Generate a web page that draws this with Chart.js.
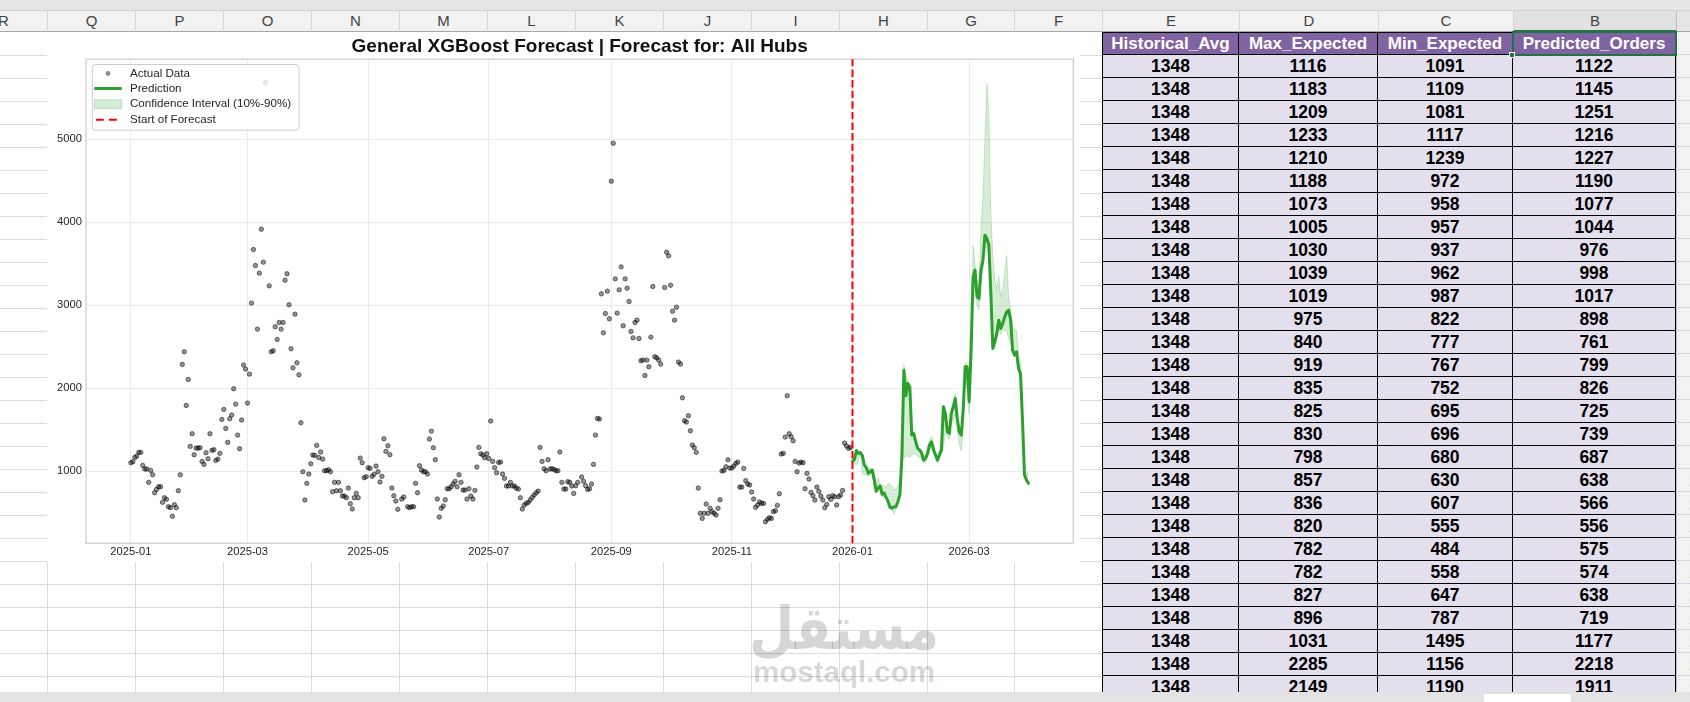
<!DOCTYPE html>
<html>
<head>
<meta charset="utf-8">
<title>General XGBoost Forecast</title>
<script src="https://cdn.jsdelivr.net/npm/chart.js@4.4.1/dist/chart.umd.min.js"></script>
<style>
  html, body { margin: 0; padding: 0; }
  body { width: 1690px; height: 702px; overflow: hidden; position: relative; background: #fff;
         font-family: "Liberation Sans", Arial, sans-serif; }
  .abs { position: absolute; box-sizing: border-box; }
  .strip { background: #e6e6e6; border-bottom: 1px solid #d0d0d0; }
  .colhead { text-align: center; font-size: 15px; color: #444; line-height: 20px; background: #f2f2f2;
             border-left: 1px solid #d6d6d6; border-bottom: 1px solid #a8a8a8; }
  .selcol { background: #e1e1e1; border-bottom: 2px solid #217346; }
  .corner { background: #e6e6e6; border-left: 1px solid #bdbdbd; border-bottom: 1px solid #a8a8a8; }
  .gline { background: #dcdcdc; }
  .rownum { font-size: 15px; color: #444; text-align: center; line-height: 23px; background: #f2f2f2;
            border-left: 1px solid #bdbdbd; border-bottom: 1px solid #d6d6d6; }
  .hcell { background: #8064a2; color: #fff; font-weight: bold; font-size: 17px; text-align: center;
           line-height: 21px; border-right: 1px solid #000; border-bottom: 1px solid #000; border-top: 1px solid #000;
           white-space: nowrap; overflow: hidden; }
  .dcell { background: #e4dfec; color: #000; font-weight: bold; font-size: 17.5px; text-align: center;
           line-height: 22px; border-right: 1px solid #000; border-bottom: 1px solid #000; }
  .first { border-left: 1px solid #000; }
  .sel { border: 2px solid #217346; }
  .handle { background: #217346; border: 1px solid #fff; }
  .bottom { background: #e3e3e3; }
  .thumb { background: #fff; }
  #forecastChart { position: absolute; left: 47px; top: 32px; background: #fff; }
  #wmAr { position: absolute; left: 742px; top: 598px; width: 204px; text-align: center; font-family: "DejaVu Sans", sans-serif;
          font-weight: bold; font-size: 52px; line-height: 1; color: rgba(0,0,0,0.16);
          transform: scale(1, 1.15); transform-origin: top center; }
  #wmEn { position: absolute; left: 742px; top: 657px; width: 204px; text-align: center; font-size: 29.5px; font-weight: bold;
          line-height: 1; color: rgba(0,0,0,0.16); }
</style>
</head>
<body>
<div id="sheet"></div>
<canvas id="forecastChart" width="1033" height="530"></canvas>
<div id="wmAr">مستقل</div>
<div id="wmEn">mostaql.com</div>
<script>
// daily actual orders, day 0 = 2025-01-01 (null = no point visible)
var actualOrders = [
  1104,1116,1168,1185,1229,1229,1072,1028,1028,868,
  1012,960,743,783,815,815,627,683,663,575,
  563,459,599,563,767,960,2288,2440,1794,2107,
  1301,1453,1200,1281,1281,1285,1120,1084,1225,1152,
  1453,1253,1261,1132,1148,1217,1626,1746,1517,1349,
  1634,1678,1995,1810,1437,1273,1618,2280,2231,1822,
  2171,3026,3671,3479,2713,3387,3916,3519,5680,null,
  3234,2440,2452,2741,2588,2793,2713,2793,3302,3379,
  3006,2476,2247,2893,2308,2163,1586,996,655,856,
  968,1092,1197,1193,1313,1168,1233,1148,1008,1008,
  1020,996,755,868,767,868,767,703,703,683,
  799,611,547,683,735,683,1160,1104,924,936,
  1044,1036,940,964,1064,996,872,940,1393,1241,
  1309,1201,799,707,643,543,null,667,691,null,
  575,563,575,575,856,743,1068,1016,996,996,
  968,1389,1485,1285,1140,667,450,555,583,659,
  791,791,815,848,880,815,960,868,775,775,
  667,791,703,667,771,1052,1289,1213,1197,1164,
  1213,1156,1606,1120,1044,984,1108,1112,968,916,
  824,824,868,824,824,799,787,683,547,595,
  615,627,655,687,715,743,763,1289,1120,1032,
  1008,1140,1028,1032,1024,1008,1008,1233,868,787,
  787,876,868,824,735,828,868,null,932,880,
  828,783,791,848,1084,1437,1638,1630,3138,2669,
  2901,3170,2837,4494,4951,3318,2905,3186,3463,2753,
  3318,3206,3046,2685,2608,2793,2821,2600,2332,2340,
  2155,2340,2259,2616,3226,2380,2368,2340,2292,null,
  3214,3639,3595,3242,2929,2821,2977,2316,2292,1886,
  1610,1594,1670,1489,1317,1285,1229,799,495,434,
  495,607,495,555,515,495,475,555,659,1004,
  1012,1056,1140,1040,1040,1064,1096,1112,811,811,
  1036,888,848,836,751,667,567,595,631,615,
  615,394,422,442,434,515,527,591,731,1209,
  1217,1413,1911,1453,1417,1369,1120,996,1100,1112,
  1104,791,976,908,747,707,655,811,759,703,
  655,563,603,695,663,707,695,595,695,715,
  771,1341,1305,1277,1289
];

// forecast, one value per day from 2026-01-01
var forecastStartDay = 365;
var predictedOrders = [
  1122,1145,1251,1216,1227,1190,1077,1044,976,998,1017,898,761,799,826,725,739,687,638,566,
  556,575,574,638,719,1177,2218,1911,
  2059,2019,1437,1457,1357,1277,1257,1217,1136,1156,1217,1317,1357,1257,1197,1136,1197,1257,1778,1698,
  1477,1457,1698,1778,1878,1638,1477,1437,1738,2259,2259,1838,2460,3342,3423,3102,3082,3423,3543,3844,
  3804,3723,3142,2480,2560,2661,2821,2721,2781,2861,2921,2941,2821,2460,2400,2440,2239,2179,1618,956,
  896,856
];
var maxExpected = [
  1116,1183,1209,1233,1210,1188,1073,1005,1030,1039,1019,975,840,919,835,825,830,798,857,836,
  820,782,782,827,896,1031,2285,2149,
  2100,2040,1480,1470,1380,1300,1280,1250,1160,1200,1300,1380,1420,1330,1240,1180,1260,1330,1800,1740,
  1540,1500,1740,1820,1940,1680,1500,1460,1780,2300,2280,1880,2520,3720,3500,3300,3250,3900,4300,5000,
  5670,5300,4100,3600,3300,3200,3350,3100,3200,3400,3600,3100,2950,2750,2700,2700,2400,2300,1700,1000,
  950,1000
];
var minExpected = [
  1091,1109,1081,1117,1239,972,958,957,937,962,987,822,777,767,752,695,696,680,630,607,
  555,484,558,647,787,1495,1156,1190,
  1180,1170,1200,1210,1200,1180,1170,1140,1100,1120,1180,1270,1300,1220,1160,1100,1160,1220,1300,1450,
  1420,1380,1560,1600,1700,1500,1330,1250,1500,2100,2050,1700,2300,3100,3250,3000,2950,3300,3450,3700,
  3700,3600,3000,2500,2600,2600,2700,2650,2700,2700,2700,2600,2550,2420,2400,2400,2200,2100,1550,920,
  880,850
];
var historicalAvg = 1348;

var tickDays = [0, 59, 120, 181, 243, 304, 365, 424];
var tickLabels = ['2025-01', '2025-03', '2025-05', '2025-07', '2025-09', '2025-11', '2026-01', '2026-03'];
var yTicks = [1000, 2000, 3000, 4000, 5000];
var xAxisMin = -22.7, xAxisMax = 476.7;
var yAxisMin = 134, yAxisMax = 5963;
var seriesNames = ['Actual Data', 'Prediction', 'Confidence Interval (10%-90%)', 'Start of Forecast'];
var tableHeaders = ['Historical_Avg', 'Max_Expected', 'Min_Expected', 'Predicted_Orders'];
var tableRowCount = 28;

// ---- spreadsheet around the chart ----
var sheet = document.getElementById('sheet');
function cell(x, y, w, h, cls, text) {
  var d = document.createElement('div');
  d.className = 'abs ' + cls;
  d.style.left = x + 'px';
  d.style.top = y + 'px';
  d.style.width = w + 'px';
  d.style.height = h + 'px';
  if (text !== undefined) d.textContent = text;
  sheet.appendChild(d);
  return d;
}

var colEdges = [-41, 47, 135, 223, 311, 399, 487, 575, 663, 751, 839, 927, 1014, 1102, 1239, 1378, 1513, 1676];
var colLetters = ['R', 'Q', 'P', 'O', 'N', 'M', 'L', 'K', 'J', 'I', 'H', 'G', 'F', 'E', 'D', 'C', 'B'];

cell(0, 0, 1690, 11, 'strip');
for (var i = 0; i < colLetters.length; i++) {
  var h = cell(colEdges[i], 11, colEdges[i + 1] - colEdges[i], 21, 'colhead', colLetters[i]);
  if (colLetters[i] === 'B') h.className += ' selcol';
}
cell(1676, 11, 14, 21, 'corner');

for (var y = 55; y < 692; y += 23) cell(0, y, 1676, 1, 'gline');
for (var i = 1; i < colEdges.length - 1; i++) cell(colEdges[i], 32, 1, 660, 'gline');

for (var r = 1; r <= 29; r++) cell(1676, 32 + (r - 1) * 23, 42, 23, 'rownum', r);

var tableCols = [1102, 1239, 1378, 1513, 1676];
for (var j = 0; j < 4; j++) {
  var hc = cell(tableCols[j], 32, tableCols[j + 1] - tableCols[j], 23, 'hcell', tableHeaders[j]);
  if (j === 0) hc.className += ' first';
}
for (var r = 0; r < tableRowCount; r++) {
  var vals = [historicalAvg, maxExpected[r], minExpected[r], predictedOrders[r]];
  for (var j = 0; j < 4; j++) {
    var dc = cell(tableCols[j], 55 + r * 23, tableCols[j + 1] - tableCols[j], 23, 'dcell', vals[j]);
    if (j === 0) dc.className += ' first';
  }
}
cell(1512, 31, 165, 25, 'sel');
cell(1509, 52, 6, 6, 'handle');

cell(0, 692, 1690, 10, 'bottom');
cell(1484, 694, 87, 8, 'thumb');

// ---- chart ----
Chart.defaults.font.family = '"Liberation Sans", Arial, sans-serif';

var actualPoints = [];
for (var i = 0; i < actualOrders.length; i++) {
  if (actualOrders[i] !== null) actualPoints.push({ x: i, y: actualOrders[i] });
}
function forecastSeries(values) {
  var pts = [];
  for (var i = 0; i < values.length; i++) pts.push({ x: forecastStartDay + i, y: values[i] });
  return pts;
}

var axesFrame = {
  id: 'axesFrame',
  beforeDatasetsDraw: function (chart) {
    var a = chart.chartArea, c = chart.ctx;
    c.save();
    c.strokeStyle = '#cfcfcf';
    c.lineWidth = 1.3;
    c.strokeRect(a.left, a.top, a.right - a.left, a.bottom - a.top);
    c.restore();
  }
};

var forecastStart = {
  id: 'forecastStart',
  afterDatasetsDraw: function (chart) {
    var a = chart.chartArea, c = chart.ctx;
    var x = chart.scales.x.getPixelForValue(forecastStartDay);
    c.save();
    c.setLineDash([7.4, 3.2]);
    c.strokeStyle = '#ff0000';
    c.lineWidth = 2;
    c.beginPath();
    c.moveTo(x, a.bottom);
    c.lineTo(x, a.top);
    c.stroke();
    c.restore();
  }
};

var legendBox = {
  id: 'legendBox',
  afterDraw: function (chart) {
    var a = chart.chartArea, c = chart.ctx;
    var x0 = a.left + 6.3, y0 = a.top + 5.3;
    var rows = [a.top + 14.3, a.top + 29.3, a.top + 45, a.top + 60.5];
    var hx0 = a.left + 8.3, hx1 = a.left + 35.7;
    c.save();
    c.beginPath();
    c.roundRect(x0, y0, 206.7, 65.7, 3);
    c.fillStyle = 'rgba(255,255,255,0.8)';
    c.fill();
    c.strokeStyle = '#cccccc';
    c.lineWidth = 1;
    c.stroke();

    c.beginPath();
    c.arc((hx0 + hx1) / 2, rows[0], 2.4, 0, Math.PI * 2);
    c.fillStyle = 'rgba(0,0,0,0.45)';
    c.fill();

    c.beginPath();
    c.moveTo(hx0, rows[1]);
    c.lineTo(hx1, rows[1]);
    c.strokeStyle = '#2ca02c';
    c.lineWidth = 3;
    c.stroke();

    c.fillStyle = 'rgba(44,160,44,0.2)';
    c.fillRect(hx0, rows[2] - 4.5, hx1 - hx0, 9);
    c.strokeStyle = 'rgba(44,160,44,0.25)';
    c.lineWidth = 1;
    c.strokeRect(hx0, rows[2] - 4.5, hx1 - hx0, 9);

    c.setLineDash([8, 5]);
    c.beginPath();
    c.moveTo(hx0 + 1.5, rows[3]);
    c.lineTo(hx1, rows[3]);
    c.strokeStyle = '#ff0000';
    c.lineWidth = 2;
    c.stroke();
    c.setLineDash([]);

    c.font = '11.6px "Liberation Sans", Arial, sans-serif';
    c.fillStyle = '#262626';
    c.textBaseline = 'middle';
    c.textAlign = 'left';
    for (var i = 0; i < seriesNames.length; i++) c.fillText(seriesNames[i], a.left + 44, rows[i]);
    c.restore();
  }
};

var ctx = document.getElementById('forecastChart');
var forecastChart = new Chart(ctx, {
  type: 'line',
  data: {
    datasets: [
      {
        label: seriesNames[1],
        data: forecastSeries(predictedOrders),
        borderColor: '#2ca02c',
        borderWidth: 3,
        borderJoinStyle: 'round',
        borderCapStyle: 'round',
        pointRadius: 0,
        fill: false,
        order: 1
      },
      {
        label: 'max',
        data: forecastSeries(maxExpected),
        borderColor: 'rgba(44,160,44,0.22)',
        borderWidth: 1,
        backgroundColor: 'rgba(44,160,44,0.2)',
        pointRadius: 0,
        fill: '+1',
        order: 2
      },
      {
        label: 'min',
        data: forecastSeries(minExpected),
        borderColor: 'rgba(44,160,44,0.22)',
        borderWidth: 1,
        pointRadius: 0,
        fill: false,
        order: 3
      },
      {
        type: 'scatter',
        label: seriesNames[0],
        data: actualPoints,
        backgroundColor: 'rgba(0,0,0,0.42)',
        borderColor: 'rgba(0,0,0,0.5)',
        borderWidth: 1,
        pointRadius: 2.2,
        order: 4
      }
    ]
  },
  options: {
    responsive: false,
    animation: false,
    layout: { padding: { left: 0, right: 6.7, top: 0, bottom: 0 } },
    plugins: {
      legend: { display: false },
      tooltip: { enabled: false },
      title: {
        display: true,
        fullSize: false,
        text: 'General XGBoost Forecast | Forecast for: All Hubs',
        color: '#111',
        font: { size: 19, weight: 'bold' },
        padding: { top: 3, bottom: 1.4 }
      }
    },
    scales: {
      x: {
        type: 'linear',
        min: xAxisMin,
        max: xAxisMax,
        afterBuildTicks: function (s) { s.ticks = tickDays.map(function (d) { return { value: d }; }); },
        afterFit: function (s) { s.height = 18.7; },
        ticks: {
          autoSkip: false,
          maxRotation: 0,
          padding: 2,
          color: '#262626',
          font: { size: 11.2 },
          callback: function (v, i) { return tickLabels[i]; }
        },
        grid: { color: '#ebebeb', drawTicks: false },
        border: { display: false }
      },
      y: {
        min: yAxisMin,
        max: yAxisMax,
        afterBuildTicks: function (s) { s.ticks = yTicks.map(function (v) { return { value: v }; }); },
        afterFit: function (s) { s.width = 39; },
        ticks: {
          padding: 4,
          color: '#262626',
          font: { size: 11.2 },
          callback: function (v) { return String(v); }
        },
        grid: { color: '#ebebeb', drawTicks: false },
        border: { display: false }
      }
    }
  },
  plugins: [axesFrame, forecastStart, legendBox]
});
</script>
</body>
</html>
